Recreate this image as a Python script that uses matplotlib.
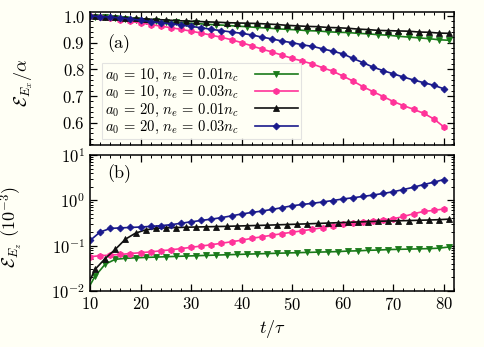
import numpy as np
import matplotlib
matplotlib.use('Agg')
import matplotlib.pyplot as plt
from matplotlib.ticker import MultipleLocator, LogLocator, NullFormatter

plt.rcParams['font.family'] = 'serif'
plt.rcParams['font.serif'] = ['cmr10', 'DejaVu Serif']
plt.rcParams['mathtext.fontset'] = 'cm'
plt.rcParams['axes.formatter.use_mathtext'] = True
plt.rcParams['axes.unicode_minus'] = False

#%% data ----------------------------------------------------
t_even = np.arange(10, 81, 2)                                 # a0=*, ne=0.03nc
t_odd = np.concatenate([[10], np.arange(11, 82, 2)])          # a0=*, ne=0.01nc

# panel (a): E_Ex / alpha
ex_g = [1.000, 0.998, 0.995, 0.992, 0.989, 0.986, 0.983, 0.980, 0.978, 0.976,
        0.974, 0.972, 0.969, 0.967, 0.965, 0.962,
        0.960, 0.957, 0.955, 0.952, 0.950, 0.948, 0.945, 0.944, 0.941, 0.939,
        0.938, 0.935, 0.933, 0.930, 0.928, 0.924, 0.921, 0.918, 0.915, 0.911, 0.909]
ex_k = [1.000, 0.999, 0.997, 0.995, 0.993, 0.991, 0.989, 0.987, 0.985, 0.983,
        0.981, 0.980, 0.978, 0.977, 0.975, 0.974,
        0.973, 0.972, 0.970, 0.968, 0.965, 0.963, 0.961, 0.960, 0.957, 0.956,
        0.954, 0.951, 0.949, 0.946, 0.945, 0.944, 0.943, 0.940, 0.939, 0.936, 0.935]
ex_p = [1.000, 0.997, 0.992, 0.986, 0.980, 0.974, 0.968, 0.962, 0.956, 0.950,
        0.943, 0.936, 0.928, 0.920, 0.911, 0.900,
        0.888, 0.876, 0.865, 0.853, 0.841, 0.831, 0.820, 0.806, 0.793, 0.775,
        0.756, 0.735, 0.716, 0.698, 0.679, 0.664, 0.650, 0.635, 0.614, 0.584]
ex_b = [1.000, 0.998, 0.996, 0.993, 0.989, 0.984, 0.979, 0.975, 0.971, 0.966,
        0.961, 0.956, 0.950, 0.945, 0.940, 0.935,
        0.929, 0.921, 0.914, 0.906, 0.900, 0.892, 0.886, 0.877, 0.868, 0.858,
        0.841, 0.825, 0.808, 0.795, 0.783, 0.771, 0.760, 0.750, 0.740, 0.727]

# panel (b): E_Ez (1e-3)
ez_g = [0.0134, 0.0212, 0.039, 0.050, 0.0525, 0.054, 0.055, 0.056, 0.057, 0.058,
        0.059, 0.060, 0.061, 0.062, 0.063, 0.064, 0.065, 0.066, 0.067, 0.068,
        0.069, 0.070, 0.071, 0.072, 0.073, 0.074, 0.076, 0.077, 0.079, 0.080,
        0.082, 0.083, 0.084, 0.085, 0.086, 0.088, 0.0935]
ez_k = [0.0173, 0.030, 0.052, 0.083, 0.139, 0.189, 0.223, 0.240, 0.247, 0.251,
        0.255, 0.258, 0.261, 0.264, 0.267, 0.271, 0.275, 0.279, 0.283, 0.288,
        0.293, 0.298, 0.303, 0.309, 0.315, 0.321, 0.327, 0.333, 0.339, 0.345,
        0.350, 0.354, 0.358, 0.363, 0.368, 0.374, 0.385]
ez_p = [0.057, 0.060, 0.062, 0.064, 0.067, 0.070, 0.073, 0.077, 0.081, 0.086,
        0.092, 0.098, 0.105, 0.113, 0.122, 0.132, 0.145, 0.157, 0.170, 0.184,
        0.198, 0.213, 0.230, 0.250, 0.275, 0.300, 0.320, 0.340, 0.356, 0.372,
        0.392, 0.440, 0.506, 0.569, 0.600, 0.645]
ez_b = [0.130, 0.200, 0.240, 0.247, 0.252, 0.258, 0.266, 0.276, 0.290, 0.312,
        0.336, 0.360, 0.385, 0.415, 0.455, 0.500, 0.540, 0.580, 0.630, 0.690,
        0.760, 0.810, 0.860, 0.920, 0.990, 1.070, 1.140, 1.220, 1.310, 1.420,
        1.550, 1.730, 1.950, 2.230, 2.510, 2.880]

labels = [r'$a_0\,=\,10,\,n_e\,=\,0.01n_c$', r'$a_0\,=\,10,\,n_e\,=\,0.03n_c$',
          r'$a_0\,=\,20,\,n_e\,=\,0.01n_c$', r'$a_0\,=\,20,\,n_e\,=\,0.03n_c$']

#%% styles --------------------------------------------------
bg = '#fffff5'
colors = ['#1a7a1a', '#ff3399', '#111111', '#1a1a8c']
markers = ['v', 'h', '^', 'D']
msizes = [4.5, 4.5, 4.5, 3.5]
tt = [t_odd, t_even, t_odd, t_even]
mev = [slice(1, None), None, slice(1, None), None]

fig = plt.figure(figsize=(4.85, 3.47), dpi=100, facecolor=bg)
ax1 = fig.add_axes([0.1856, 0.582, 0.7505, 0.3834], facecolor=bg)
ax2 = fig.add_axes([0.1856, 0.1614, 0.7505, 0.3919], facecolor=bg)

for x, ys, c, m, ms, me, lab in zip(tt, [ex_g, ex_p, ex_k, ex_b], colors, markers,
                                     msizes, mev, labels):
    ax1.plot(x, ys, '-', color=c, marker=m, ms=ms, lw=1.2, label=lab,
             markeredgewidth=0.6, markevery=me)
for x, ys, c, m, ms, me in zip(tt, [ez_g, ez_p, ez_k, ez_b], colors, markers, msizes, mev):
    ax2.plot(x, ys, '-', color=c, marker=m, ms=ms, lw=1.2, markeredgewidth=0.6,
             markevery=me)

ax1.set_xlim(10, 82)
ax1.set_ylim(0.516, 1.015)
ax1.yaxis.set_major_locator(MultipleLocator(0.1))
ax1.yaxis.set_minor_locator(MultipleLocator(0.02))
ax1.set_yticks([0.6, 0.7, 0.8, 0.9, 1.0])

ax2.set_xlim(10, 82)
ax2.set_yscale('log')
ax2.set_ylim(1e-2, 1e1)
ax2.yaxis.set_major_locator(LogLocator(base=10, numticks=10))
ax2.yaxis.set_minor_locator(LogLocator(base=10, subs=np.arange(2, 10), numticks=10))
ax2.yaxis.set_minor_formatter(NullFormatter())

for ax in (ax1, ax2):
    ax.xaxis.set_major_locator(MultipleLocator(10))
    ax.xaxis.set_minor_locator(MultipleLocator(2))
    ax.tick_params(which='both', direction='in', top=True, right=True, labelsize=12)
    ax.tick_params(which='major', length=5, width=0.9)
    ax.tick_params(which='minor', length=2.5, width=0.7)
    for sp in ax.spines.values():
        sp.set_linewidth(1.1)
ax1.set_xticklabels([])

ax1.set_ylabel(r'$\mathcal{E}_{E_x}/\alpha$', fontsize=13)
ax1.yaxis.set_label_coords(-0.15, 0.47)
ax2.set_ylabel(r'$\mathcal{E}_{E_z}$ $(10^{-3})$', fontsize=13)
ax2.yaxis.set_label_coords(-0.18, 0.47)
ax2.set_xlabel(r'$t/\tau$', fontsize=13)

ax1.text(0.047, 0.76, '(a)', transform=ax1.transAxes, fontsize=13, va='center')
ax2.text(0.047, 0.865, '(b)', transform=ax2.transAxes, fontsize=13, va='center')

leg = ax1.legend(loc='lower left', bbox_to_anchor=(0.02, 0.01), markerfirst=False,
                 fontsize=10.5, frameon=True, fancybox=False, handlelength=2.9,
                 labelspacing=0.0, borderpad=0.25, handletextpad=1.1,
                 borderaxespad=0.3)
leg.get_frame().set_edgecolor('#dddddd')
leg.get_frame().set_facecolor(bg)
leg.get_frame().set_linewidth(0.8)

fig.savefig('out.png', dpi=100, facecolor=bg)
